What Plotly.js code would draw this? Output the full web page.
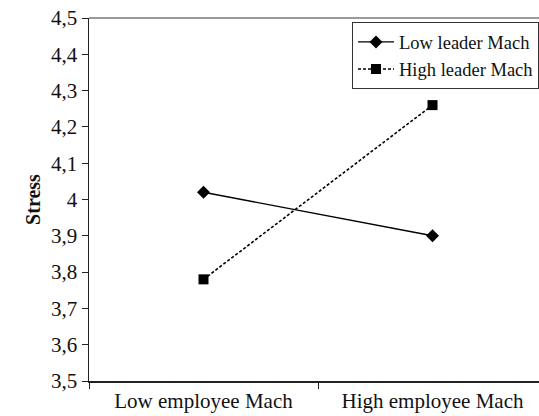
<!DOCTYPE html>
<html><head><meta charset="utf-8">
<script src="https://cdn.plot.ly/plotly-3.0.1.min.js"></script>
<style>html,body{margin:0;padding:0;background:#fff}#chart{width:539px;height:416px}</style>
</head><body><div id="chart"></div>
<script>
const categories = ["Low employee Mach", "High employee Mach"];
const lowLeader = [4.02, 3.90];
const highLeader = [3.78, 4.26];
const seriesNames = ["Low leader Mach", "High leader Mach"];
const yTicks = [3.5, 3.6, 3.7, 3.8, 3.9, 4.0, 4.1, 4.2, 4.3, 4.4, 4.5];

const font = "Liberation Serif, Times New Roman, serif";
const traces = [
  {x: categories, y: lowLeader, name: seriesNames[0], type: "scatter", mode: "lines+markers",
   line: {color: "#000", width: 1.4}, marker: {symbol: "diamond", size: 10, color: "#000"}},
  {x: categories, y: highLeader, name: seriesNames[1], type: "scatter", mode: "lines+markers",
   line: {color: "#000", width: 1.6, dash: "3px,2px"}, marker: {symbol: "square", size: 10, color: "#000"}}
];
const layout = {
  width: 539, height: 416,
  margin: {l: 89, r: 0, t: 18, b: 35},
  paper_bgcolor: "#fff", plot_bgcolor: "#fff",
  separators: ", ",
  font: {family: font, size: 21, color: "#111"},
  showlegend: true,
  legend: {x: 1, xanchor: "right", y: 0.988, yanchor: "top",
    bordercolor: "#333", borderwidth: 1, bgcolor: "#fff",
    font: {family: font, size: 18.5, color: "#111"}, tracegroupgap: 0, itemwidth: 36},
  xaxis: {type: "category", range: [-0.5, 1.465], tickson: "boundaries",
    ticks: "outside", ticklen: 6, tickcolor: "#222", showline: true, linecolor: "#222", linewidth: 1.5,
    showgrid: false, zeroline: false, tickfont: {family: font, size: 21, color: "#111"}, fixedrange: true},
  yaxis: {range: [3.5, 4.5], tickvals: yTicks, ticks: "outside", ticklen: 6, tickcolor: "#222",
    showline: true, linecolor: "#222", linewidth: 1.5, showgrid: false, zeroline: false,
    tickfont: {family: font, size: 21, color: "#111"},
    title: {text: "<b>Stress</b>", font: {family: font, size: 20, color: "#111"}, standoff: 5}},
  shapes: [{type: "line", xref: "paper", yref: "paper", x0: 0, x1: 1, y0: 1, y1: 1,
    line: {color: "#777", width: 1.5}}]
};
Plotly.newPlot("chart", traces, layout, {displayModeBar: false, staticPlot: true});
</script></body></html>
